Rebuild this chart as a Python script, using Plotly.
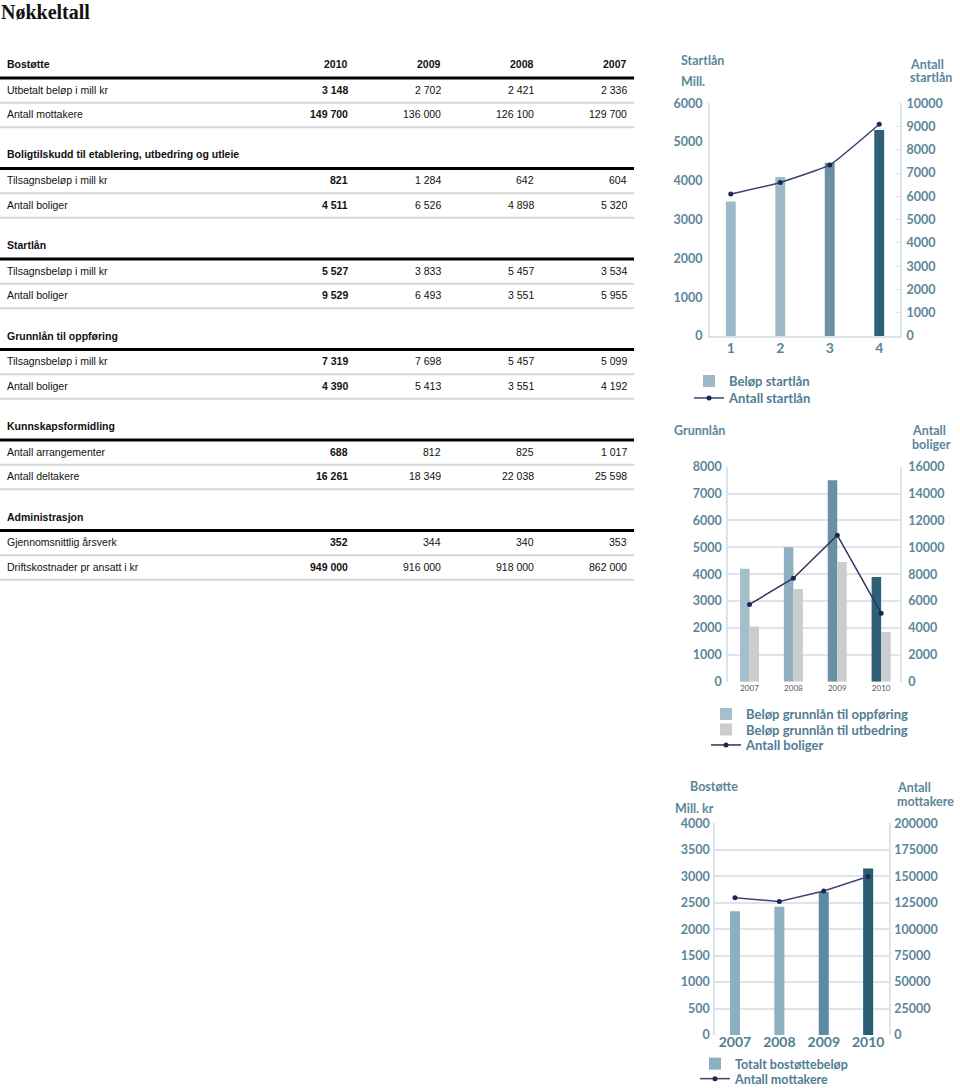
import plotly.graph_objects as go

W, H = 960, 1088

# ---------------- data: key figures table ----------------
table_title = "Nøkkeltall"
table_years = ["2010", "2009", "2008", "2007"]
section_names = ["Bostøtte", "Boligtilskudd til etablering, utbedring og utleie", "Startlån",
                 "Grunnlån til oppføring", "Kunnskapsformidling", "Administrasjon"]
bostotte_labels = ["Utbetalt beløp i mill kr", "Antall mottakere"]
bostotte_values = [["3 148", "2 702", "2 421", "2 336"], ["149 700", "136 000", "126 100", "129 700"]]
tilskudd_labels = ["Tilsagnsbeløp i mill kr", "Antall boliger"]
tilskudd_values = [["821", "1 284", "642", "604"], ["4 511", "6 526", "4 898", "5 320"]]
startlan_labels = ["Tilsagnsbeløp i mill kr", "Antall boliger"]
startlan_values = [["5 527", "3 833", "5 457", "3 534"], ["9 529", "6 493", "3 551", "5 955"]]
grunnlan_labels = ["Tilsagnsbeløp i mill kr", "Antall boliger"]
grunnlan_values = [["7 319", "7 698", "5 457", "5 099"], ["4 390", "5 413", "3 551", "4 192"]]
kunnskap_labels = ["Antall arrangementer", "Antall deltakere"]
kunnskap_values = [["688", "812", "825", "1 017"], ["16 261", "18 349", "22 038", "25 598"]]
admin_labels = ["Gjennomsnittlig årsverk", "Driftskostnader pr ansatt i kr"]
admin_values = [["352", "344", "340", "353"], ["949 000", "916 000", "918 000", "862 000"]]

# ---------------- data: charts ----------------
startlan_cat = ["1", "2", "3", "4"]
startlan_belop = [3470, 4100, 4470, 5310]
startlan_antall = [6100, 6600, 7350, 9100]

grunnlan_years = ["2007", "2008", "2009", "2010"]
grunnlan_oppforing = [4200, 5000, 7500, 3900]
grunnlan_utbedring = [2050, 3450, 4450, 1850]
grunnlan_boliger = [5750, 7700, 10900, 5100]

bostotte_years = ["2007", "2008", "2009", "2010"]
bostotte_belop = [2336, 2421, 2702, 3148]
bostotte_mottakere = [129700, 126100, 136000, 149700]

# ---------------- styles ----------------
startlan_colors = ["#9dbac8", "#9dbac8", "#6b8fa3", "#2e6079"]
oppforing_colors = ["#a3bfcc", "#8fb0c0", "#6a90a4", "#2e6079"]
utbedring_color = "#c9cdd0"
bostotte_colors = ["#8db0c1", "#8db0c1", "#5d8ba1", "#285d74"]
teal = "#5b8699"
axis_line = "#dbe3e8"
grid = "#dde5ea"
tick_font = dict(family="Lato", size=12.5, color=teal, weight="bold")
table_font = dict(family="Liberation Sans", size=10.5, color="#111111")


def px(x):
    return x / W


def py(y):
    return 1 - y / H


def xdom(l, r):
    return [l / W, r / W]


def ydom(top, bottom):
    return [py(bottom), py(top)]


annotations = []
shapes = []


def ann(x, y, text, anchor, font=table_font):
    annotations.append(dict(x=px(x), y=py(y), xref="paper", yref="paper", text=text,
                            showarrow=False, xanchor=anchor, yanchor="middle", font=font))


# ---------------- table ----------------
annotations.append(dict(x=0, y=1, xref="paper", yref="paper", text=f"<b>{table_title}</b>",
                        showarrow=False, xanchor="left", yanchor="top", borderpad=0,
                        font=dict(family="Liberation Serif", size=20, color="#111111")))

sections = list(zip(section_names,
                    [bostotte_labels, tilskudd_labels, startlan_labels, grunnlan_labels, kunnskap_labels, admin_labels],
                    [bostotte_values, tilskudd_values, startlan_values, grunnlan_values, kunnskap_values, admin_values]))
col_right = [350, 443, 536, 629]
label_x = 5
sec_y0, sec_pitch = 64, 90.5
row_off = [25.7, 50.2]
line_off = [38.8, 63.3]
thick_off = 14
for i, (name, labels, vals) in enumerate(sections):
    y0 = sec_y0 + i * sec_pitch
    ann(label_x, y0, f"<b>{name}</b>", "left")
    if i == 0:
        for yr, cx in zip(table_years, col_right):
            ann(cx, y0, f"<b>{yr}</b>", "right")
    shapes.append(dict(type="line", xref="paper", yref="paper", x0=0, x1=px(634),
                       y0=py(y0 + thick_off), y1=py(y0 + thick_off),
                       line=dict(color="#000000", width=3)))
    for r, (lab, rowvals) in enumerate(zip(labels, vals)):
        ry = y0 + row_off[r]
        ann(label_x, ry, lab, "left")
        for j, (v, cx) in enumerate(zip(rowvals, col_right)):
            ann(cx, ry, f"<b>{v}</b>" if j == 0 else v, "right")
        shapes.append(dict(type="line", xref="paper", yref="paper", x0=0, x1=px(634),
                           y0=py(y0 + line_off[r]), y1=py(y0 + line_off[r]),
                           line=dict(color="#d4d4d4", width=2)))

# ---------------- chart titles ----------------
title_font = dict(family="Lato", size=12.5, color=teal, weight="bold")
ann(679, 61, "Startlån", "left", title_font)
ann(679, 81, "Mill.", "left", title_font)
ann(908, 64, "Antall", "left", title_font)
ann(908, 77, "startlån", "left", title_font)
ann(672, 430, "Grunnlån", "left", title_font)
ann(910, 430, "Antall", "left", title_font)
ann(910, 444, "boliger", "left", title_font)
ann(688, 786, "Bostøtte", "left", title_font)
ann(673, 808, "Mill. kr", "left", title_font)
ann(895, 787, "Antall", "left", title_font)
ann(895, 801, "mottakere", "left", title_font)

fig = go.Figure()

# ---------------- chart 1: Startlån ----------------
fig.add_trace(go.Bar(x=startlan_cat, y=startlan_belop, name="Beløp startlån", width=0.2,
                     marker=dict(color=startlan_colors, line=dict(width=0)),
                     xaxis="x2", yaxis="y2", legend="legend", showlegend=True))
fig.add_trace(go.Scatter(x=startlan_cat, y=startlan_antall, name="Antall startlån", mode="lines+markers",
                         line=dict(color="#3a4170", width=1.5, shape="spline", smoothing=0.4),
                         marker=dict(size=5, color="#1f2750"),
                         xaxis="x2", yaxis="y3", legend="legend2"))

# ---------------- chart 2: Grunnlån ----------------
fig.add_trace(go.Bar(x=grunnlan_years, y=grunnlan_oppforing, name="Beløp grunnlån til oppføring",
                     width=0.217, offset=-0.217,
                     marker=dict(color=oppforing_colors, line=dict(width=0)),
                     xaxis="x3", yaxis="y4", legend="legend3"))
fig.add_trace(go.Bar(x=grunnlan_years, y=grunnlan_utbedring, name="Beløp grunnlån til utbedring",
                     width=0.217, offset=0,
                     marker=dict(color=utbedring_color, line=dict(width=0)),
                     xaxis="x3", yaxis="y4", legend="legend4"))
fig.add_trace(go.Scatter(x=grunnlan_years, y=grunnlan_boliger, name="Antall boliger", mode="lines+markers",
                         line=dict(color="#2b3460", width=1.5), marker=dict(size=5, color="#1f2750"),
                         xaxis="x3", yaxis="y5", legend="legend5"))

# ---------------- chart 3: Bostøtte ----------------
fig.add_trace(go.Bar(x=bostotte_years, y=bostotte_belop, name="Totalt bostøttebeløp", width=0.226,
                     marker=dict(color=bostotte_colors, line=dict(width=0)),
                     xaxis="x4", yaxis="y6", legend="legend6"))
fig.add_trace(go.Scatter(x=bostotte_years, y=bostotte_mottakere, name="Antall mottakere", mode="lines+markers",
                         line=dict(color="#45427a", width=1.5), marker=dict(size=5, color="#23245a"),
                         xaxis="x4", yaxis="y7", legend="legend7"))

common_y = dict(tickformat="d", zeroline=False, tickfont=tick_font, fixedrange=True, automargin=False)
legend_font = dict(family="Lato", size=13, color="#4f7d93", weight="bold")


def leg(text_x, y, size=13):
    return dict(x=px(text_x - 40), y=py(y), xanchor="left", yanchor="middle",
                font=dict(legend_font, size=size),
                bgcolor="rgba(0,0,0,0)", borderwidth=0)


fig.update_layout(
    width=W, height=H, margin=dict(l=0, r=0, t=0, b=0, pad=0, autoexpand=False),
    paper_bgcolor="white", plot_bgcolor="rgba(0,0,0,0)",
    barmode="overlay", showlegend=True,
    annotations=annotations, shapes=shapes,
    # chart 1
    xaxis2=dict(domain=xdom(710, 900), anchor="y2", type="category", range=[-0.42, 3.42],
                showline=True, linecolor=axis_line, linewidth=2, ticks="", showgrid=False, automargin=False,
                tickfont=dict(family="Lato", size=14, color=teal, weight="bold"), ticklabelstandoff=-2),
    yaxis2=dict(domain=ydom(103.3, 336), anchor="x2", range=[0, 6000], dtick=1000,
                showline=True, linecolor=axis_line, linewidth=2, showgrid=False, ticklabelstandoff=3, **common_y),
    yaxis3=dict(overlaying="y2", side="right", anchor="x2", range=[0, 10000], dtick=1000,
                showline=True, linecolor=axis_line, linewidth=2, showgrid=False,
                ticks="inside", ticklen=5, tickcolor=axis_line, ticklabelstandoff=2, **common_y),
    # chart 2
    xaxis3=dict(domain=xdom(728, 900), anchor="y4", type="category", range=[-0.49, 3.43],
                showline=False, ticks="", showgrid=False, automargin=False,
                tickfont=dict(family="Lato", size=8, color="#555555"), ticklabelstandoff=0),
    yaxis4=dict(domain=ydom(466.7, 681.7), anchor="x3", range=[0, 8000], dtick=1000,
                showline=True, linecolor=grid, linewidth=1.5, showgrid=True, gridcolor=grid, gridwidth=1.5,
                ticklabelstandoff=2, **common_y),
    yaxis5=dict(overlaying="y4", side="right", anchor="x3", range=[0, 16000], dtick=2000,
                showline=True, linecolor=grid, linewidth=1.5, showgrid=False, ticklabelstandoff=4, **common_y),
    # chart 3
    xaxis4=dict(domain=xdom(715, 889), anchor="y6", type="category", range=[-0.45, 3.47],
                showline=False, ticks="", showgrid=False, automargin=False,
                tickfont=dict(family="Lato", size=14, color="#4f7d93", weight="bold"), ticklabelstandoff=-3),
    yaxis6=dict(domain=ydom(823.3, 1035), anchor="x4", range=[0, 4000], dtick=500,
                showline=True, linecolor=grid, linewidth=1.5, showgrid=True, gridcolor=grid, gridwidth=1.5,
                ticklabelstandoff=1, **common_y),
    yaxis7=dict(overlaying="y6", side="right", anchor="x4", range=[0, 200000], dtick=25000,
                showline=True, linecolor=grid, linewidth=1.5, showgrid=False, ticklabelstandoff=1, **common_y),
    legend=leg(729, 381),
    legend2=leg(729, 398),
    legend3=leg(746, 714),
    legend4=leg(746, 729.5),
    legend5=leg(746, 745),
    legend6=leg(735, 1064, 12.5),
    legend7=leg(735, 1079, 12.5),
)

fig.write_html("out.html", config={"displayModeBar": False},
               post_script="document.body.style.margin='0px';document.body.style.overflow='hidden';")
